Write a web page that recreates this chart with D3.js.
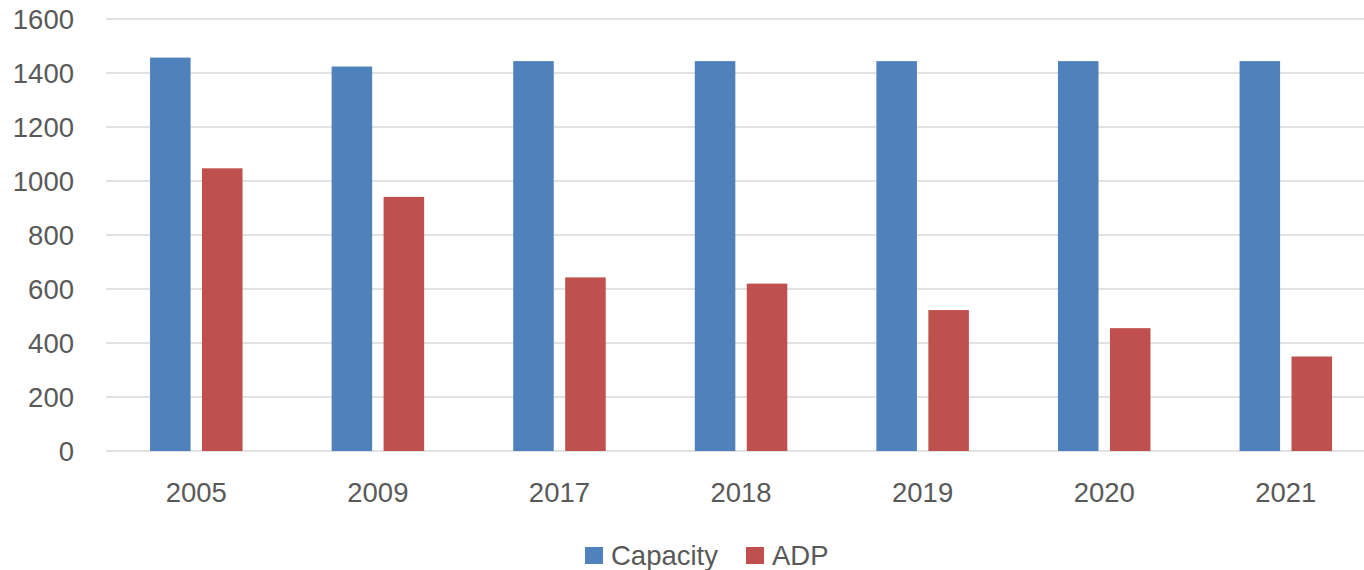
<!DOCTYPE html>
<html>
<head>
<meta charset="utf-8">
<script src="https://cdn.jsdelivr.net/npm/d3@7"></script>
<style>
  body { margin: 0; background: #fff; }
  text { font-family: "Liberation Sans", Arial, sans-serif; fill: #595959; }
</style>
</head>
<body>
<svg id="chart"></svg>
<script>
// Data
const years = ["2005", "2009", "2017", "2018", "2019", "2020", "2021"];
const capacity = [1457, 1424, 1444, 1444, 1444, 1444, 1444];
const adp = [1047, 941, 643, 620, 522, 455, 350];
const seriesNames = ["Capacity", "ADP"];
const seriesColors = ["#4F81BD", "#C0504D"];
const yTicks = [0, 200, 400, 600, 800, 1000, 1200, 1400, 1600];

const W = 1364, H = 570;
const svg = d3.select("#chart").attr("width", W).attr("height", H);

// Scales
const x0 = d3.scaleBand().domain(years).range([105.5, 1376.6]).padding(0);
const groupW = 92.5;
const x1 = d3.scaleBand().domain(seriesNames)
  .range([(x0.bandwidth() - groupW) / 2, (x0.bandwidth() + groupW) / 2])
  .paddingInner(0.22);
const y = d3.scaleLinear().domain([0, 1600]).range([451, 19]);

// Gridlines
svg.append("g")
  .selectAll("line")
  .data(yTicks)
  .join("line")
  .attr("x1", 106).attr("x2", W)
  .attr("y1", d => y(d)).attr("y2", d => y(d))
  .attr("stroke", "#D9D9D9")
  .attr("stroke-width", 1.5);

// Y axis labels
svg.append("g")
  .selectAll("text")
  .data(yTicks)
  .join("text")
  .attr("x", 74)
  .attr("y", d => y(d))
  .attr("dy", "0.36em")
  .attr("text-anchor", "end")
  .style("font-size", "27.5px")
  .text(d => d);

// Bars
const rows = years.map((yr, i) => ({ year: yr, values: [capacity[i], adp[i]] }));
const groups = svg.append("g")
  .selectAll("g")
  .data(rows)
  .join("g")
  .attr("transform", d => "translate(" + x0(d.year) + ",0)");

groups.selectAll("rect")
  .data(d => d.values.map((v, j) => ({ key: seriesNames[j], value: v, color: seriesColors[j] })))
  .join("rect")
  .attr("x", d => x1(d.key))
  .attr("width", x1.bandwidth())
  .attr("y", d => y(d.value))
  .attr("height", d => y(0) - y(d.value))
  .attr("fill", d => d.color);

// X axis labels
svg.append("g")
  .selectAll("text")
  .data(years)
  .join("text")
  .attr("x", d => x0(d) + x0.bandwidth() / 2)
  .attr("y", 492)
  .attr("dy", "0.36em")
  .attr("text-anchor", "middle")
  .style("font-size", "27.5px")
  .text(d => d);

// Legend
const legendPos = [585, 746];
const legend = svg.append("g")
  .selectAll("g")
  .data(seriesNames)
  .join("g")
  .attr("transform", (d, i) => "translate(" + legendPos[i] + ",547)");

legend.append("rect")
  .attr("width", 18).attr("height", 17)
  .attr("fill", (d, i) => seriesColors[i]);

legend.append("text")
  .attr("x", 26)
  .attr("y", 8.5)
  .attr("dy", "0.36em")
  .style("font-size", "27.5px")
  .text(d => d);
</script>
</body>
</html>
